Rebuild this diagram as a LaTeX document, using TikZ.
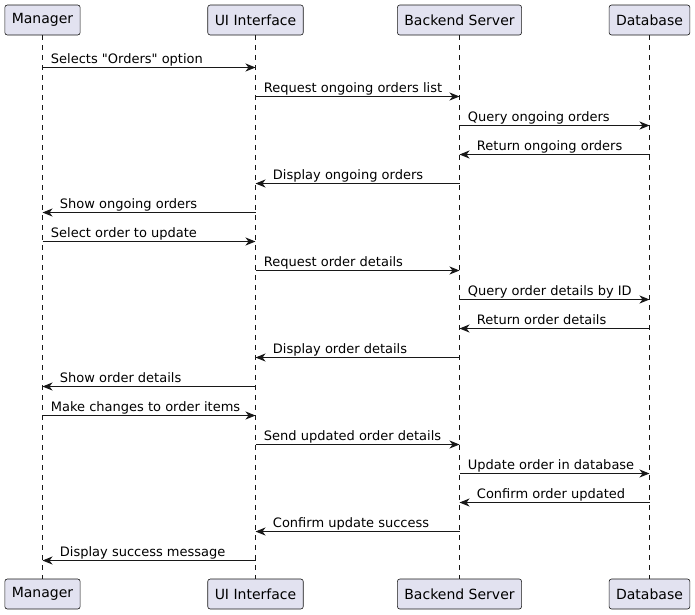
\documentclass[tikz,border=0pt]{standalone}
\usepackage{fontspec}
\setmainfont{DejaVu Sans}
\usetikzlibrary{arrows.meta,positioning}

\definecolor{boxfill}{HTML}{E2E2F0}
\definecolor{ink}{HTML}{181818}

\tikzset{
  actor/.style={draw=ink, line width=0.6pt, fill=boxfill, rounded corners=2.5pt,
    minimum height=30pt, inner xsep=7pt, font=\fontsize{14}{16}\selectfont},
  lifeline/.style={draw=ink, line width=0.5pt, dash pattern=on 5pt off 5pt},
  msg/.style={draw=ink, line width=0.9pt, -{Stealth[length=10pt,width=8pt,inset=3pt]}},
  msglabel/.style={font=\fontsize{13}{15}\selectfont, inner sep=0pt, anchor=base west, yshift=4pt}
}

% message to the right: from, to, y, text
\newcommand{\msgright}[4]{\draw[msg] (#1 |- 0,#3) -- (#2 |- 0,#3)
  node[msglabel, pos=0, xshift=8pt] {#4};}
% message to the left: from, to, y, text
\newcommand{\msgleft}[4]{\draw[msg] (#1 |- 0,#3) -- (#2 |- 0,#3)
  node[msglabel, pos=1, xshift=17pt] {#4};}

\begin{document}
\begin{tikzpicture}[x=1pt, y=-1pt]
    \useasboundingbox (0,0) rectangle (695,614);

    % participants
    \node[actor] (man)  at (42.5,20)  {Manager};
    \node[actor] (ui)   at (255.5,20) {UI Interface};
    \node[actor] (srv)  at (459.5,20) {Backend Server};
    \node[actor] (db)   at (649.5,20) {Database};

    \node[actor] (man2) at (42.5,594)  {Manager};
    \node[actor] (ui2)  at (255.5,594) {UI Interface};
    \node[actor] (srv2) at (459.5,594) {Backend Server};
    \node[actor] (db2)  at (649.5,594) {Database};

    % lifelines
    \draw[lifeline] (man) -- (man2);
    \draw[lifeline] (ui) -- (ui2);
    \draw[lifeline] (srv) -- (srv2);
    \draw[lifeline] (db) -- (db2);

    % messages
    \msgright{man}{ui}{67.5}{Selects \textquotedbl Orders\textquotedbl{} option}
    \msgright{ui}{srv}{96.5}{Request ongoing orders list}
    \msgright{srv}{db}{125.5}{Query ongoing orders}
    \msgleft{db}{srv}{154.5}{Return ongoing orders}
    \msgleft{srv}{ui}{183.5}{Display ongoing orders}
    \msgleft{ui}{man}{212.5}{Show ongoing orders}
    \msgright{man}{ui}{241.5}{Select order to update}
    \msgright{ui}{srv}{270.5}{Request order details}
    \msgright{srv}{db}{299.5}{Query order details by ID}
    \msgleft{db}{srv}{328.5}{Return order details}
    \msgleft{srv}{ui}{357.5}{Display order details}
    \msgleft{ui}{man}{386.5}{Show order details}
    \msgright{man}{ui}{415.5}{Make changes to order items}
    \msgright{ui}{srv}{444.5}{Send updated order details}
    \msgright{srv}{db}{473.5}{Update order in database}
    \msgleft{db}{srv}{502.5}{Confirm order updated}
    \msgleft{srv}{ui}{531.5}{Confirm update success}
    \msgleft{ui}{man}{560.5}{Display success message}

\end{tikzpicture}
\end{document}
